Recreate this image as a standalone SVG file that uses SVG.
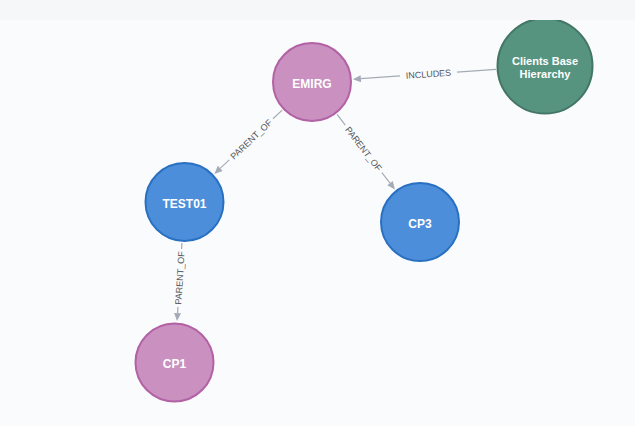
<svg xmlns="http://www.w3.org/2000/svg" width="635" height="426" viewBox="0 0 635 426">
<style>
.bg{fill:#fafbfc}
.band{fill:#f6f7f9}
.edge line{stroke:#a5abb6;stroke-width:1.2}
.edge polygon{fill:#a5abb6}
.elabel{font-family:"Liberation Sans",Arial,sans-serif;font-size:9px;fill:#55585e;text-anchor:middle}
.nlabel{font-family:"Liberation Sans",Arial,sans-serif;font-size:12px;font-weight:bold;fill:#ffffff;text-anchor:middle}
.small{font-size:11px}
.pink{fill:#c990c0;stroke:#b261a5;stroke-width:2}
.blue{fill:#4c8eda;stroke:#2870c2;stroke-width:2}
.green{fill:#569480;stroke:#447666;stroke-width:2}
</style>
<rect class="bg" x="0" y="0" width="635" height="426"/>
<g id="connectors">
  <g class="edge" id="e-includes" transform="translate(312,82) rotate(-3.93)">
    <polygon points="41,0 49,-3.5 49,3.5"/>
    <line x1="49" y1="0" x2="88.2" y2="0"/>
    <line x1="145.3" y1="0" x2="184.5" y2="0"/>
    <text class="elabel" x="116.7" y="3.2">INCLUDES</text>
  </g>
  <g class="edge" id="e-emirg-test01" transform="translate(184.5,202) rotate(-43.26)">
    <polygon points="41,0 49,-3.5 49,3.5"/>
    <line x1="49" y1="0" x2="61.5" y2="0"/>
    <line x1="121.5" y1="0" x2="134.1" y2="0"/>
    <text class="elabel" x="91.5" y="3.2">PARENT_OF</text>
  </g>
  <g class="edge" id="e-emirg-cp3" transform="translate(312,82) rotate(52.35)">
    <line x1="41" y1="0" x2="54.4" y2="0"/>
    <line x1="114.4" y1="0" x2="127.8" y2="0"/>
    <polygon points="135.8,0 127.8,-3.5 127.8,3.5"/>
    <text class="elabel" x="84.4" y="3.2">PARENT_OF</text>
  </g>
  <g class="edge" id="e-test01-cp1" transform="translate(174.5,362) rotate(-86.42)">
    <polygon points="41,0 49,-3.5 49,3.5"/>
    <line x1="49" y1="0" x2="55.2" y2="0"/>
    <line x1="113.2" y1="0" x2="119.3" y2="0"/>
    <text class="elabel" x="84.2" y="3.2">PARENT_OF</text>
  </g>
</g>
<g id="node-clients-base-hierarchy">
  <circle class="green" cx="545" cy="66" r="47.5"/>
  <text class="nlabel small" x="545" y="65">Clients Base</text>
  <text class="nlabel small" x="545" y="77.5">Hierarchy</text>
</g>
<g id="node-emirg">
  <circle class="pink" cx="312" cy="82" r="39"/>
  <text class="nlabel" x="312" y="87.5">EMIRG</text>
</g>
<g id="node-test01">
  <circle class="blue" cx="184.5" cy="202" r="39"/>
  <text class="nlabel" x="184.5" y="207.5">TEST01</text>
</g>
<g id="node-cp3">
  <circle class="blue" cx="420" cy="222" r="39"/>
  <text class="nlabel" x="420" y="227.5">CP3</text>
</g>
<g id="node-cp1">
  <circle class="pink" cx="174.5" cy="362.5" r="39"/>
  <text class="nlabel" x="174.5" y="368">CP1</text>
</g>
<rect class="band" x="0" y="0" width="635" height="20"/>
</svg>
